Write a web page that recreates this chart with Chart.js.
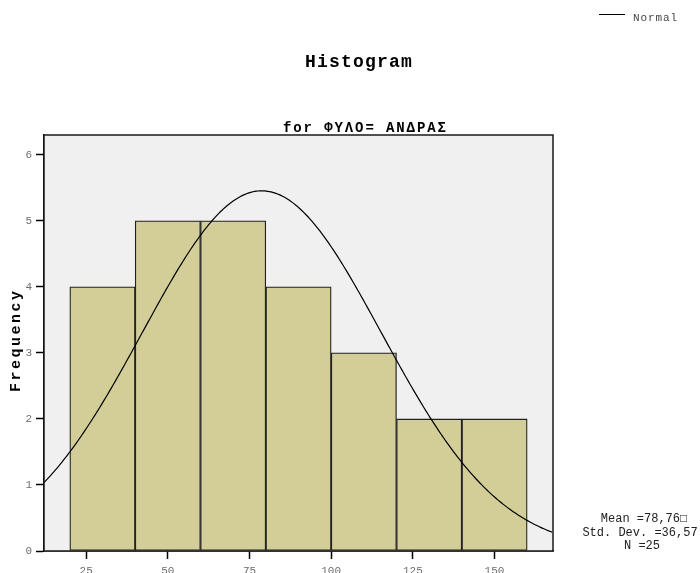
<!DOCTYPE html>
<html>
<head>
<meta charset="utf-8">
<script src="https://cdn.jsdelivr.net/npm/chart.js@4.4.0/dist/chart.umd.min.js"></script>
<style>
  html, body { margin: 0; padding: 0; background: #fff; }
</style>
</head>
<body>
<canvas id="histChart" width="700" height="573"></canvas>
<script>
// histogram bins (lower edge), counts and axis ticks
const binStarts = [20, 40, 60, 80, 100, 120, 140];
const binWidth = 20;
const frequencies = [4, 5, 5, 4, 3, 2, 2];
const xTicks = [25, 50, 75, 100, 125, 150];
const yTicks = [0, 1, 2, 3, 4, 5, 6];

// summary stats printed next to the chart, also used for the normal curve
const meanValue = 78.76;
const stdDev = 36.57;
const nCount = 25;

const xMin = 12.1;
const xMax = 167.9;
const yMax = 6.3;

const mono = '"Liberation Mono", "Courier New", monospace';

const barPoints = binStarts.map((s, i) => ({ x: s + binWidth / 2, y: frequencies[i] }));

// normal density scaled to counts per bin
const normalPoints = [];
const peak = nCount * binWidth / (stdDev * Math.sqrt(2 * Math.PI));
for (let x = xMin; x <= xMax + 0.001; x += 0.5) {
  const z = (x - meanValue) / stdDev;
  normalPoints.push({ x: x, y: peak * Math.exp(-0.5 * z * z) });
}

function spacedText(ctx, text, x, y, font, spacing, color, align) {
  ctx.save();
  ctx.font = font;
  ctx.fillStyle = color;
  ctx.textAlign = align || 'left';
  ctx.textBaseline = 'middle';
  ctx.letterSpacing = spacing + 'px';
  ctx.fillText(text, x, y);
  ctx.restore();
}

const plotFrame = {
  id: 'plotFrame',
  beforeDatasetsDraw(chart) {
    const a = chart.chartArea;
    const ctx = chart.ctx;
    ctx.save();
    ctx.fillStyle = '#f0f0f0';
    ctx.fillRect(a.left, a.top, a.right - a.left, a.bottom - a.top);
    ctx.restore();
  },
  afterDatasetsDraw(chart) {
    const a = chart.chartArea;
    const ctx = chart.ctx;
    ctx.save();
    ctx.strokeStyle = '#1a1a1a';
    ctx.lineWidth = 1.5;
    ctx.strokeRect(a.left, a.top, a.right - a.left, a.bottom - a.top);
    ctx.restore();
  },
  afterDraw(chart) {
    const ctx = chart.ctx;
    // legend
    ctx.save();
    ctx.strokeStyle = '#000';
    ctx.lineWidth = 1;
    ctx.beginPath();
    ctx.moveTo(599, 14.5);
    ctx.lineTo(625, 14.5);
    ctx.stroke();
    ctx.restore();
    spacedText(ctx, 'Normal', 633, 18, '11px ' + mono, 0.9, '#444');

    // titles
    spacedText(ctx, 'Histogram', 305, 62, 'bold 18px ' + mono, 1.2, '#000');
    spacedText(ctx, 'for ΦΥΛΟ= ΑΝΔΡΑΣ', 283, 128, 'bold 14px ' + mono, 1.9, '#000');

    // y axis title
    ctx.save();
    ctx.translate(16, 392);
    ctx.rotate(-Math.PI / 2);
    spacedText(ctx, 'Frequency', 0, 0, 'bold 15px ' + mono, 2.5, '#000');
    ctx.restore();

    // stats block
    spacedText(ctx, 'Mean =78,76\u25A1', 644, 519, '12px ' + mono, 0, '#222', 'center');
    spacedText(ctx, 'Std. Dev. =36,57', 640, 533, '12px ' + mono, 0, '#222', 'center');
    spacedText(ctx, 'N =25', 642, 546, '12px ' + mono, 0, '#222', 'center');
  }
};

new Chart(document.getElementById('histChart'), {
  data: {
    datasets: [
      {
        type: 'line',
        label: 'Normal',
        data: normalPoints,
        borderColor: '#000',
        borderWidth: 1.2,
        pointRadius: 0,
        tension: 0,
        fill: false,
        order: 0
      },
      {
        type: 'bar',
        label: 'Frequency',
        data: barPoints,
        backgroundColor: '#d3ce98',
        borderColor: '#222',
        borderWidth: 1.3,
        borderSkipped: false,
        barPercentage: 1,
        categoryPercentage: 1,
        order: 1
      }
    ]
  },
  options: {
    responsive: false,
    animation: false,
    devicePixelRatio: 1,
    layout: { padding: { top: 135, right: 147, left: 0, bottom: 0 } },
    plugins: {
      legend: { display: false },
      title: { display: false },
      tooltip: { enabled: false }
    },
    scales: {
      x: {
        type: 'linear',
        min: xMin,
        max: xMax,
        offset: false,
        afterBuildTicks: s => { s.ticks = xTicks.map(v => ({ value: v })); },
        afterFit: s => { s.height = 22; },
        grid: { offset: false, drawOnChartArea: false, drawTicks: true, tickLength: 8, tickColor: '#000', tickWidth: 1.5 },
        border: { color: '#000', width: 1.5 },
        ticks: { color: '#6e6e6e', font: { family: mono, size: 11 }, padding: 5, maxRotation: 0, autoSkip: false }
      },
      y: {
        type: 'linear',
        min: 0,
        max: yMax,
        afterBuildTicks: s => { s.ticks = yTicks.map(v => ({ value: v })); },
        afterFit: s => { s.width = 44; },
        grid: { drawOnChartArea: false, drawTicks: true, tickLength: 8, tickColor: '#000', tickWidth: 1.5 },
        border: { color: '#000', width: 1.5 },
        ticks: { color: '#6e6e6e', font: { family: mono, size: 11 }, padding: 4 }
      }
    }
  },
  plugins: [plotFrame]
});
</script>
</body>
</html>
